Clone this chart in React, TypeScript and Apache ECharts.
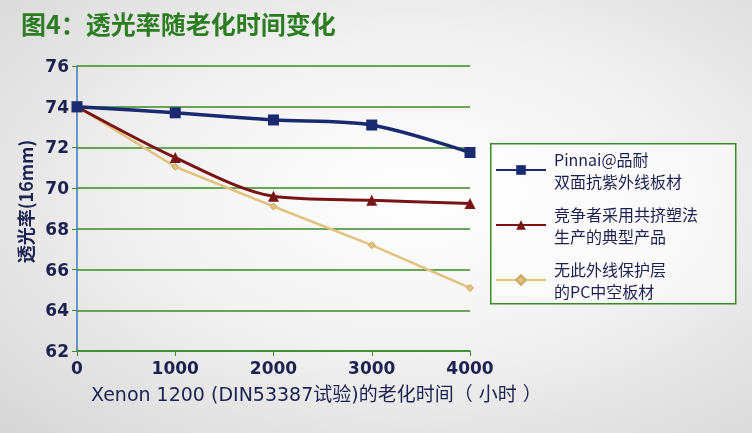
import React, { useEffect, useRef } from "react";
import * as echarts from "echarts";

const hours = [0, 1000, 2000, 3000, 4000];
const pinnaiValues = [74.0, 73.7, 73.35, 73.1, 71.75];
const competitorValues = [74.0, 71.5, 69.6, 69.4, 69.25];
const unprotectedValues = [74.0, 71.05, 69.1, 67.2, 65.1];
const seriesNames = [
  "Pinnai@品耐\n双面抗紫外线板材",
  "竞争者采用共挤塑法\n生产的典型产品",
  "无此外线保护层\n的PC中空板材",
];
const yTicks = [62, 64, 66, 68, 70, 72, 74, 76];

const navy = "#1c2150";
const green = "#3a8a2a";

export default function App() {
  const ref = useRef<HTMLDivElement>(null);
  useEffect(() => {
    const chart = echarts.init(ref.current!, null, { renderer: "svg" });
    const pair = (vals: number[]) => hours.map((h, i) => [h, vals[i]]);
    chart.setOption({
      animation: false,
      backgroundColor: "transparent",
      grid: { left: 77, top: 66, width: 393, height: 285, containLabel: false },
      title: {
        text: "图4：透光率随老化时间变化",
        left: 16,
        top: 5,
        textStyle: {
          fontFamily: "Noto Sans CJK SC",
          fontSize: 25,
          fontWeight: "bold",
          color: "#2c7d22",
        },
      },
      xAxis: {
        type: "value",
        min: 0,
        max: 4000,
        interval: 1000,
        axisLine: { show: true, lineStyle: { color: green, width: 1.5 } },
        axisTick: { show: true, length: 5, lineStyle: { color: green } },
        splitLine: { show: false },
        axisLabel: {
          color: navy,
          fontSize: 17,
          fontWeight: 600,
          fontFamily: "DejaVu Sans",
          margin: 8,
          formatter: (v: number) => String(v),
        },
      },
      yAxis: {
        type: "value",
        min: yTicks[0],
        max: yTicks[yTicks.length - 1],
        interval: 2,
        name: "透光率(16mm)",
        nameLocation: "middle",
        nameGap: 40,
        nameRotate: 90,
        nameTextStyle: {
          color: navy,
          fontSize: 18,
          fontWeight: "bold",
          fontFamily: "Noto Sans CJK SC",
          padding: [0, 0, 0, 14],
        },
        axisLine: { show: true, lineStyle: { color: "#3d78b8", width: 1.5 } },
        axisTick: { show: true, length: 5, lineStyle: { color: green } },
        splitLine: { show: true, lineStyle: { color: green, width: 1.5 } },
        axisLabel: {
          color: navy,
          fontSize: 17,
          fontWeight: 600,
          fontFamily: "DejaVu Sans",
          margin: 8,
        },
      },
      legend: {
        orient: "vertical",
        left: 492,
        top: 140,
        padding: [8, 20, 0, 3],
        itemGap: 11,
        itemWidth: 50,
        itemHeight: 12,
        borderWidth: 0,
        textStyle: {
          color: navy,
          fontSize: 16,
          lineHeight: 22,
          fontFamily: "Noto Sans CJK SC",
          padding: [0, 0, 0, 3],
        },
        data: seriesNames,
      },
      graphic: [
        {
          type: "rect",
          left: 490,
          top: 143,
          z: -1,
          shape: { width: 245, height: 160 },
          style: { fill: "rgba(255,255,255,0.55)", stroke: green, lineWidth: 1.5 },
        },
        {
          type: "text",
          left: 91,
          top: 384,
          style: {
            text: "Xenon 1200 (DIN53387试验)的老化时间（ 小时 ）",
            fill: navy,
            fontSize: 19,
            fontFamily: "DejaVu Sans, Noto Sans CJK SC",
          },
        },
      ],
      series: [
        {
          name: seriesNames[2],
          type: "line",
          data: pair(unprotectedValues),
          symbol: "diamond",
          symbolSize: 7,
          lineStyle: { color: "#e2c27e", width: 2.5 },
          itemStyle: { color: "#e2c27e", borderColor: "#c9a860", borderWidth: 1 },
          z: 2,
        },
        {
          name: seriesNames[1],
          type: "line",
          data: pair(competitorValues),
          smooth: 0.3,
          symbol: "triangle",
          symbolSize: 11,
          lineStyle: { color: "#7a1414", width: 3 },
          itemStyle: { color: "#7a1414" },
          z: 3,
        },
        {
          name: seriesNames[0],
          type: "line",
          data: pair(pinnaiValues),
          smooth: 0.3,
          symbol: "rect",
          symbolSize: 11,
          lineStyle: { color: "#1a2a70", width: 3.5 },
          itemStyle: { color: "#1a2a70" },
          z: 4,
        },
      ],
    });
    return () => chart.dispose();
  }, []);
  return (
    <div
      style={{
        position: "fixed",
        left: 0,
        top: 0,
        width: 752,
        height: 433,
        background:
          "radial-gradient(ellipse at 55% 45%, #ffffff 0%, #f2f2f2 45%, #d6d6d6 100%)",
      }}
    >
      <div ref={ref} style={{ width: 752, height: 433 }} />
    </div>
  );
}
